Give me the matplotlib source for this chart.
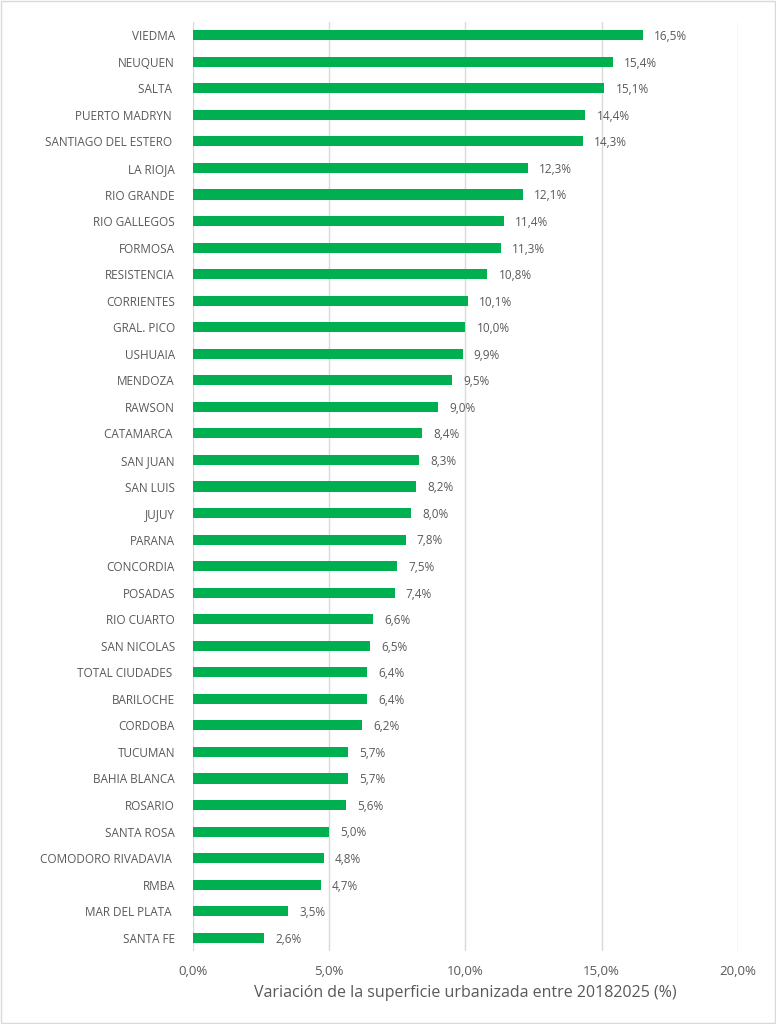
import matplotlib.pyplot as plt
from matplotlib.patches import Rectangle

ciudades = ["VIEDMA", "NEUQUEN", "SALTA ", "PUERTO MADRYN ", "SANTIAGO DEL ESTERO ",
            "LA RIOJA", "RIO GRANDE", "RIO GALLEGOS", "FORMOSA", "RESISTENCIA",
            "CORRIENTES", "GRAL. PICO", "USHUAIA", "MENDOZA", "RAWSON",
            "CATAMARCA ", "SAN JUAN", "SAN LUIS", "JUJUY", "PARANA",
            "CONCORDIA", "POSADAS", "RIO CUARTO", "SAN NICOLAS", "TOTAL CIUDADES ",
            "BARILOCHE", "CORDOBA", "TUCUMAN", "BAHIA BLANCA", "ROSARIO",
            "SANTA ROSA", "COMODORO RIVADAVIA ", "RMBA", "MAR DEL PLATA ", "SANTA FE"]
variacion = [16.5, 15.4, 15.1, 14.4, 14.3, 12.3, 12.1, 11.4, 11.3, 10.8,
             10.1, 10.0, 9.9, 9.5, 9.0, 8.4, 8.3, 8.2, 8.0, 7.8,
             7.5, 7.4, 6.6, 6.5, 6.4, 6.4, 6.2, 5.7, 5.7, 5.6,
             5.0, 4.8, 4.7, 3.5, 2.6]
x_ticks = [0, 5, 10, 15, 20]

verde = "#00B050"
gris = "#595959"
plt.rcParams['font.family'] = ['Open Sans', 'DejaVu Sans']

fig = plt.figure(figsize=(7.76, 10.24), dpi=100)
ax = fig.add_axes([0.2487, 0.0713, 0.7023, 0.9072])

pos = list(range(len(ciudades)))
ax.barh(pos, variacion, height=0.38, color=verde, zorder=3)
for p, v in zip(pos, variacion):
    ax.annotate(f"{v:.1f}%".replace(".", ","), (v, p), xytext=(8, -1),
                textcoords="offset points", va="center", ha="left",
                fontsize=8.5, color=gris)

ax.set_ylim(len(ciudades) - 0.5, -0.5)
ax.set_xlim(0, 20)
ax.set_yticks(pos)
ax.set_yticklabels(ciudades, fontsize=8.5, color=gris)
ax.set_xticks(x_ticks)
ax.set_xticklabels([f"{t:.1f}%".replace(".", ",") for t in x_ticks], fontsize=9.5, color=gris)
ax.tick_params(axis='both', length=0)
ax.tick_params(axis='y', pad=13)
ax.tick_params(axis='x', pad=10)
ax.grid(axis='x', color="#D9D9D9", linewidth=1, zorder=0)
for s in ax.spines.values():
    s.set_visible(False)
ax.set_xlabel("Variación de la superficie urbanizada entre 20182025 (%)",
              fontsize=11.5, color=gris, labelpad=5)

fig.patches.append(Rectangle((0.001, 0.001), 0.998, 0.998, transform=fig.transFigure,
                             fill=False, edgecolor="#D9D9D9", linewidth=1))

fig.savefig("out.png", dpi=100)
